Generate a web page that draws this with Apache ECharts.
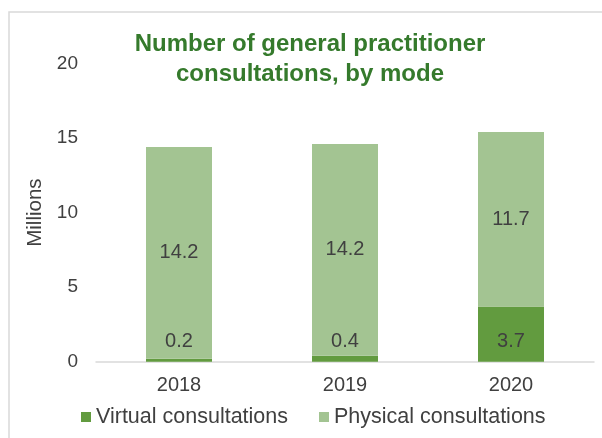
<!DOCTYPE html>
<html>
<head>
<meta charset="utf-8">
<script src="https://cdn.jsdelivr.net/npm/echarts@6/dist/echarts.min.js"></script>
<style>
  html, body { margin: 0; padding: 0; background: #ffffff; }
  #chart { width: 602px; height: 438px; }
</style>
</head>
<body>
<div id="chart"></div>
<script>
// GP consultations by mode, in millions
const years = ['2018', '2019', '2020'];
const virtualConsults = [0.2, 0.4, 3.7];
const physicalConsults = [14.2, 14.2, 11.7];
const yTicks = { min: 0, max: 20, interval: 5 };

const FONT = '"Liberation Sans", Arial, sans-serif';
const TEXT = '#404040';

const chart = echarts.init(document.getElementById('chart'), null, { renderer: 'canvas' });

chart.setOption({
  animation: false,
  backgroundColor: '#ffffff',
  textStyle: { fontFamily: FONT },
  graphic: [{
    type: 'rect',
    silent: true,
    shape: { x: 9, y: 12, width: 700, height: 500 },
    style: { fill: 'none', stroke: '#d9d9d9', lineWidth: 1.5 }
  }],
  title: {
    text: 'Number of general practitioner\nconsultations, by mode',
    left: 305,
    top: 24,
    textAlign: 'center',
    textStyle: {
      fontFamily: FONT,
      fontSize: 24,
      fontWeight: 'bold',
      color: '#357a2c',
      lineHeight: 30
    }
  },
  legend: {
    bottom: 5,
    left: 76,
    itemWidth: 10,
    itemHeight: 10,
    itemGap: 31,
    icon: 'rect',
    textStyle: { fontFamily: FONT, fontSize: 21.5, color: TEXT },
    data: ['Virtual consultations', 'Physical consultations']
  },
  grid: { left: 96, right: 8, top: 63.5, bottom: 76.3, containLabel: false },
  xAxis: {
    type: 'category',
    data: years,
    axisLine: { lineStyle: { color: '#d9d9d9', width: 1.5 } },
    axisTick: { show: false },
    axisLabel: { fontFamily: FONT, fontSize: 20, color: TEXT, margin: 14 }
  },
  yAxis: {
    type: 'value',
    min: yTicks.min,
    max: yTicks.max,
    interval: yTicks.interval,
    name: 'Millions',
    nameLocation: 'middle',
    nameRotate: 90,
    nameGap: 47,
    nameTextStyle: { fontFamily: FONT, fontSize: 20.5, color: TEXT },
    axisLine: { show: false },
    axisTick: { show: false },
    splitLine: { show: false },
    axisLabel: { fontFamily: FONT, fontSize: 19, color: TEXT, margin: 18 }
  },
  series: [
    {
      name: 'Virtual consultations',
      type: 'bar',
      stack: 'mode',
      barWidth: 66,
      data: virtualConsults,
      itemStyle: { color: '#629b3f' },
      label: {
        show: true,
        position: 'insideBottom',
        distance: 10,
        fontFamily: FONT,
        fontSize: 20,
        color: TEXT,
        formatter: p => p.value.toFixed(1)
      }
    },
    {
      name: 'Physical consultations',
      type: 'bar',
      stack: 'mode',
      barWidth: 66,
      data: physicalConsults,
      itemStyle: { color: '#a3c492' },
      label: {
        show: true,
        position: 'inside',
        fontFamily: FONT,
        fontSize: 20,
        color: TEXT,
        formatter: p => p.value.toFixed(1)
      }
    }
  ]
});
</script>
</body>
</html>
